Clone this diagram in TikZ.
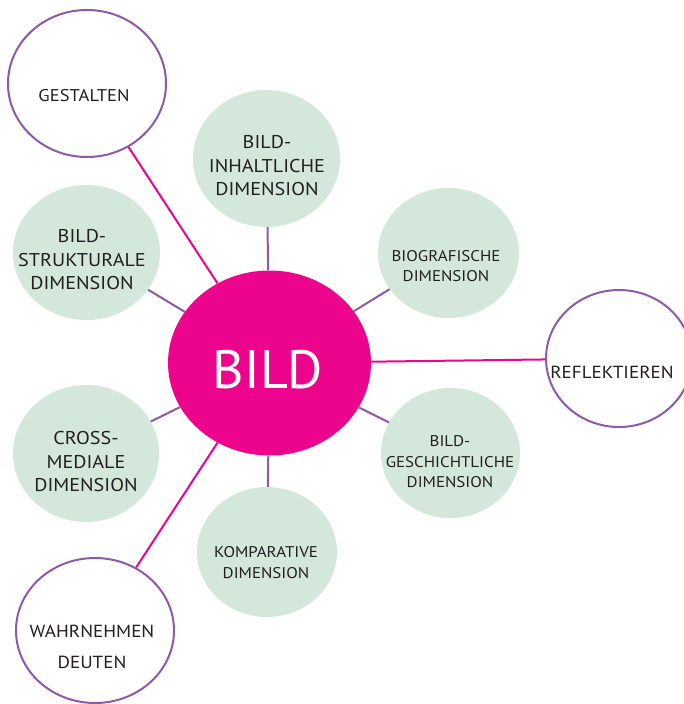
\documentclass[tikz,border=0pt]{standalone}
\usepackage{fontspec}
\setmainfont{PT Sans}
\newfontfamily\lblfont[FakeStretch=1.09]{PT Sans}
\usetikzlibrary{shapes.geometric}
\definecolor{pinkc}{HTML}{EC058C}
\definecolor{purplec}{HTML}{8C5AA6}
\definecolor{greenc}{HTML}{D3E8DA}
\definecolor{textc}{HTML}{231F20}
\tikzset{
  outerbox/.style={ellipse, draw=purplec, line width=2pt, fill=white, inner sep=0pt},
  dimbox/.style={ellipse, fill=greenc, inner sep=0pt},
  centerbox/.style={ellipse, fill=pinkc, inner sep=0pt},
  lbl/.style={text=textc, align=center, inner sep=0pt},
  pinkline/.style={draw=pinkc, line width=2pt},
  purpleline/.style={draw=purplec, line width=2pt},
}
\begin{document}
\begin{tikzpicture}[x=1pt,y=-1pt]
\useasboundingbox (0,0) rectangle (684,704);
\begin{scope}
\clip (0,0) rectangle (684,704);
% central
\node[centerbox, minimum width=203pt, minimum height=185pt] (bild) at (269.5,363) {};
% dimensions
\node[dimbox, minimum width=147pt, minimum height=137pt] (inh) at (266.5,158.5) {};
\node[dimbox, minimum width=141pt, minimum height=130pt] (bio) at (448.5,253) {};
\node[dimbox, minimum width=147pt, minimum height=135pt] (str) at (86.5,252.5) {};
\node[dimbox, minimum width=146pt, minimum height=137pt] (cro) at (86,453.5) {};
\node[dimbox, minimum width=139pt, minimum height=130pt] (ges) at (450.5,453) {};
\node[dimbox, minimum width=140pt, minimum height=130pt] (kom) at (267,552) {};
% outer
\node[outerbox, minimum width=158pt, minimum height=147pt] (gest) at (87,83.5) {};
\node[outerbox, minimum width=146pt, minimum height=137pt] (refl) at (619,358.5) {};
\node[outerbox, minimum width=158pt, minimum height=145pt] (wahr) at (95,630.5) {};
\end{scope}
% connectors drawn between borders
\path[pinkline] (gest) -- (bild);
\path[pinkline] (refl) -- (bild);
\path[pinkline] (wahr) -- (bild);
\path[purpleline] (inh) -- (bild);
\path[purpleline] (bio) -- (bild);
\path[purpleline] (str) -- (bild);
\path[purpleline] (cro) -- (bild);
\path[purpleline] (ges) -- (bild);
\path[purpleline] (kom) -- (bild);
% labels
\node[lbl, text=white, font=\fontsize{54}{60}\selectfont] (tbild) at (268,370) {BILD};
\node[lbl, font=\lblfont\fontsize{17}{20}\selectfont] (tgest) at (84,96) {GESTALTEN};
\node[lbl, font=\lblfont\fontsize{18.5}{23.5}\selectfont] (tinh) at (267,166) {BILD-\\INHALTLICHE\\DIMENSION};
\node[lbl, font=\lblfont\fontsize{15.5}{20.5}\selectfont] (tbio) at (446,266) {BIOGRAFISCHE\\DIMENSION};
\node[lbl, font=\lblfont\fontsize{17.5}{20}\selectfont] (trefl) at (612,372) {REFLEKTIEREN};
\node[lbl, font=\lblfont\fontsize{18.5}{23.5}\selectfont] (tstr) at (82,260) {BILD-\\STRUKTURALE\\DIMENSION};
\node[lbl, font=\lblfont\fontsize{18.5}{23.5}\selectfont] (tcro) at (86,462) {CROSS-\\MEDIALE\\DIMENSION};
\node[lbl, font=\lblfont\fontsize{15.5}{20.5}\selectfont] (tges) at (450,462) {BILD-\\GESCHICHTLICHE\\DIMENSION};
\node[lbl, font=\lblfont\fontsize{15.5}{21}\selectfont] (tkom) at (266,563) {KOMPARATIVE\\DIMENSION};
\node[lbl, font=\lblfont\fontsize{17.5}{31}\selectfont] (twahr) at (92,647) {WAHRNEHMEN\\DEUTEN};
\end{tikzpicture}
\end{document}
